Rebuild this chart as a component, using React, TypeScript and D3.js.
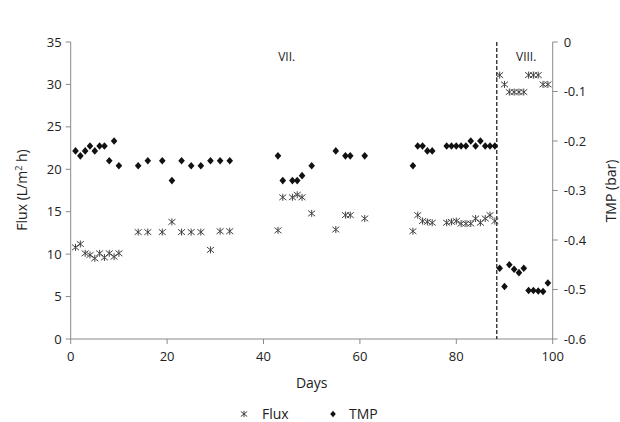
import React from 'react';
import * as d3 from 'd3';

// sampling days (same for both series)
const days = [
  1, 2, 3, 4, 5, 6, 7, 8, 9, 10,
  14, 16, 19, 21, 23, 25, 27, 29, 31, 33,
  43, 44, 46, 47, 48, 50,
  55, 57, 58, 61,
  71, 72, 73, 74, 75,
  78, 79, 80, 81, 82, 83, 84, 85, 86, 87, 88,
  89, 90, 91, 92, 93, 94, 95, 96, 97, 98, 99,
];

// flux, L/m2 h
const flux = [
  10.8, 11.2, 10.1, 9.9, 9.5, 10.1, 9.6, 10.1, 9.7, 10.1,
  12.6, 12.6, 12.6, 13.8, 12.6, 12.6, 12.6, 10.5, 12.7, 12.7,
  12.8, 16.7, 16.7, 17.0, 16.7, 14.8,
  12.9, 14.6, 14.6, 14.2,
  12.7, 14.6, 13.9, 13.8, 13.7,
  13.7, 13.8, 13.9, 13.6, 13.6, 13.6, 14.2, 13.7, 14.2, 14.6, 13.9,
  31.1, 30.0, 29.1, 29.1, 29.1, 29.1, 31.1, 31.1, 31.1, 30.0, 30.0,
];

// TMP, bar
const tmp = [
  -0.22, -0.23, -0.22, -0.21, -0.22, -0.21, -0.21, -0.24, -0.20, -0.25,
  -0.25, -0.24, -0.24, -0.28, -0.24, -0.25, -0.25, -0.24, -0.24, -0.24,
  -0.23, -0.28, -0.28, -0.28, -0.27, -0.25,
  -0.22, -0.23, -0.23, -0.23,
  -0.25, -0.21, -0.21, -0.22, -0.22,
  -0.21, -0.21, -0.21, -0.21, -0.21, -0.20, -0.21, -0.20, -0.21, -0.21, -0.21,
  -0.457, -0.494, -0.45, -0.459, -0.466, -0.457, -0.502, -0.502, -0.503, -0.504, -0.487,
];

const xTicks = [0, 20, 40, 60, 80, 100];
const fluxTicks = [0, 5, 10, 15, 20, 25, 30, 35];
const tmpTicks = [0, -0.1, -0.2, -0.3, -0.4, -0.5, -0.6];

const phaseBreak = 88.4;
const phases = [
  { label: 'VII.', day: 44.8 },
  { label: 'VIII.', day: 94.5 },
];

const W = 620;
const H = 422;
const font = '"Open Sans", "Liberation Sans", sans-serif';
const axisColor = '#8a8a8a';

const starPath = (s: number) =>
  `M${-s},${-s * 0.8}L${s},${s * 0.8}M${-s},${s * 0.8}L${s},${-s * 0.8}M0,${-s}L0,${s}`;
const diamondPath = (w: number, h: number) => `M0,${-h}L${w},0L0,${h}L${-w},0Z`;

export default function App() {
  const x = d3.scaleLinear().domain([0, 100]).range([70.7, 552.7]);
  const yL = d3.scaleLinear().domain([0, 35]).range([339, 42]);
  const yR = d3.scaleLinear().domain([-0.6, 0]).range([339, 42]);

  return (
    <svg width={W} height={H} style={{ position: 'absolute', left: 0, top: 0 }} fontFamily={font}>
      <rect width={W} height={H} fill="#fff" />

      {/* axes */}
      <g stroke={axisColor} strokeWidth={1}>
        <line x1={x(0)} x2={x(0)} y1={yL(35)} y2={yL(0)} />
        <line x1={x(100)} x2={x(100)} y1={yR(0)} y2={yR(-0.6)} />
        <line x1={x(0)} x2={x(100)} y1={yL(0)} y2={yL(0)} />
        {fluxTicks.map(t => (
          <line key={'l' + t} x1={x(0) - 5} x2={x(0)} y1={yL(t)} y2={yL(t)} />
        ))}
        {tmpTicks.map(t => (
          <line key={'r' + t} x1={x(100)} x2={x(100) + 5} y1={yR(t)} y2={yR(t)} />
        ))}
        {xTicks.map(t => (
          <line key={'x' + t} x1={x(t)} x2={x(t)} y1={yL(0)} y2={yL(0) + 5} />
        ))}
      </g>

      <g fontSize={13} fill="#222">
        {fluxTicks.map(t => (
          <text key={t} x={x(0) - 9} y={yL(t)} dy="0.35em" textAnchor="end">{t}</text>
        ))}
        {tmpTicks.map(t => (
          <text key={t} x={x(100) + 11} y={yR(t)} dy="0.35em">{t === 0 ? '0' : t.toFixed(1)}</text>
        ))}
        {xTicks.map(t => (
          <text key={t} x={x(t)} y={361} textAnchor="middle">{t}</text>
        ))}
      </g>

      {/* titles */}
      <g fontSize={14} fill="#222">
        <text x={(x(0) + x(100)) / 2} y={388} textAnchor="middle">Days</text>
        <text transform={`translate(27,190) rotate(-90)`} textAnchor="middle">
          Flux (L/m<tspan fontSize={9} dy={-5}>2</tspan><tspan dy={5}> h)</tspan>
        </text>
        <text transform={`translate(616,191) rotate(-90)`} textAnchor="middle">TMP (bar)</text>
      </g>

      {/* phase separator */}
      <line x1={x(phaseBreak)} x2={x(phaseBreak)} y1={yL(35)} y2={yL(0)}
        stroke="#111" strokeWidth={1.2} strokeDasharray="4,2" />
      {phases.map(p => (
        <text key={p.label} x={x(p.day)} y={61} fontSize={12} textAnchor="middle" fill="#222">{p.label}</text>
      ))}

      {/* flux */}
      <g stroke="#444" strokeWidth={1} fill="none">
        {days.map((d, i) => (
          <path key={i} d={starPath(3.5)} transform={`translate(${x(d)},${yL(flux[i])})`} />
        ))}
      </g>

      {/* TMP */}
      <g fill="#111">
        {days.map((d, i) => (
          <path key={i} d={diamondPath(3.3, 3.8)} transform={`translate(${x(d)},${yR(tmp[i])})`} />
        ))}
      </g>

      {/* legend */}
      <g fontSize={14} fill="#222">
        <path d={starPath(3.2)} transform="translate(244,414)" stroke="#444" fill="none" />
        <text x={262} y={419}>Flux</text>
        <path d={diamondPath(2.8, 3.3)} transform="translate(333,414)" fill="#111" />
        <text x={349} y={419}>TMP</text>
      </g>
    </svg>
  );
}
